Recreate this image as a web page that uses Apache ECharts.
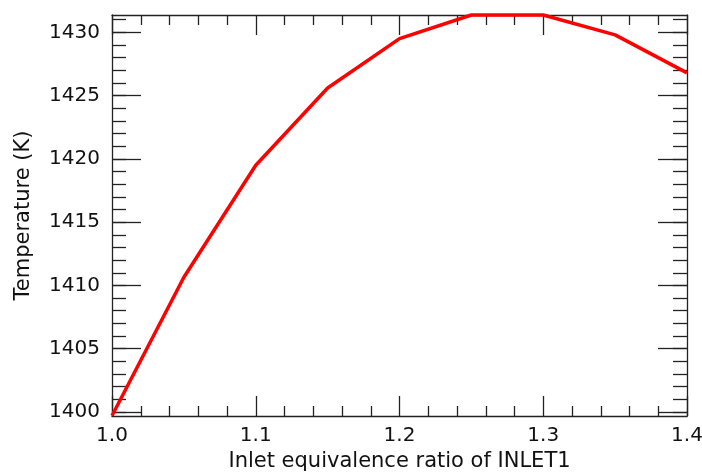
<!DOCTYPE html>
<html>
<head>
<meta charset="utf-8">
<script src="https://cdn.jsdelivr.net/npm/echarts@6/dist/echarts.min.js"></script>
<style>
html,body{margin:0;padding:0;background:#fff;}
#chart{width:702px;height:475px;}
</style>
</head>
<body>
<div id="chart"></div>
<script>
// Data
const phi = [1.00, 1.05, 1.10, 1.15, 1.20, 1.25, 1.30, 1.35, 1.40];
const temperature = [1399.7, 1410.65, 1419.5, 1425.6, 1429.5, 1431.37, 1431.37, 1429.8, 1426.8];
const yMajorTicks = [1400, 1405, 1410, 1415, 1420, 1425, 1430];
const yMinorTicks = [1400,1401,1402,1403,1404,1405,1406,1407,1408,1409,1410,1411,1412,1413,1414,1415,1416,1417,1418,1419,1420,1421,1422,1423,1424,1425,1426,1427,1428,1429,1430,1431];
const xTitle = 'Inlet equivalence ratio of INLET1';
const yTitle = 'Temperature (K)';

const FONT = 'DejaVu Sans';
const AX = '#222';
const yMin = 1399.68, yMax = 1431.37;

const chart = echarts.init(document.getElementById('chart'), null, {renderer: 'canvas'});

function yAx(pos, tickVals, len, showLabel, showLine) {
  return {
    type: 'value', position: pos, min: yMin, max: yMax, scale: true,
    axisLine: {show: showLine, onZero: false, lineStyle: {color: AX, width: 1.3}},
    axisTick: {show: true, inside: true, length: len, customValues: tickVals, lineStyle: {color: AX, width: 1.3}},
    axisLabel: {show: showLabel, customValues: yMajorTicks, margin: 12, color: '#111', fontFamily: FONT, fontSize: 20,
      formatter: v => String(Math.round(v))},
    splitLine: {show: false},
    name: showLabel ? yTitle : '',
    nameLocation: 'middle', nameGap: 78, nameRotate: 90,
    nameTextStyle: {color: '#111', fontFamily: FONT, fontSize: 21}
  };
}
function xAx(pos, showLabel) {
  return {
    type: 'value', position: pos, min: 1.0, max: 1.4, interval: 0.1,
    axisLine: {show: true, onZero: false, lineStyle: {color: AX, width: 1.3}},
    axisTick: {show: true, inside: true, length: 20, lineStyle: {color: AX, width: 1.3}},
    minorTick: {show: true, splitNumber: 5, length: 10, lineStyle: {color: AX, width: 1.3}},
    axisLabel: {show: showLabel, margin: 10, color: '#111', fontFamily: FONT, fontSize: 20,
      formatter: v => v.toFixed(1), hideOverlap: false},
    splitLine: {show: false},
    name: showLabel ? xTitle : '',
    nameLocation: 'middle', nameGap: 32,
    nameTextStyle: {color: '#111', fontFamily: FONT, fontSize: 21}
  };
}

chart.setOption({
  animation: false,
  backgroundColor: '#fff',
  grid: {left: 112, right: 15, top: 15, bottom: 59, containLabel: false, outerBoundsMode: 'none'},
  xAxis: [xAx('bottom', true), xAx('top', false)],
  yAxis: [
    yAx('left', yMajorTicks, 29, true, true),
    yAx('left', yMinorTicks, 14, false, false),
    yAx('right', yMajorTicks, 29, false, true),
    yAx('right', yMinorTicks, 14, false, false)
  ],
  series: [{
    type: 'line',
    xAxisIndex: 0, yAxisIndex: 0,
    data: phi.map((x, i) => [x, temperature[i]]),
    showSymbol: false, symbol: 'none',
    clip: false,
    lineStyle: {color: '#ff0000', width: 3.5},
    z: 5
  }]
});
</script>
</body>
</html>
